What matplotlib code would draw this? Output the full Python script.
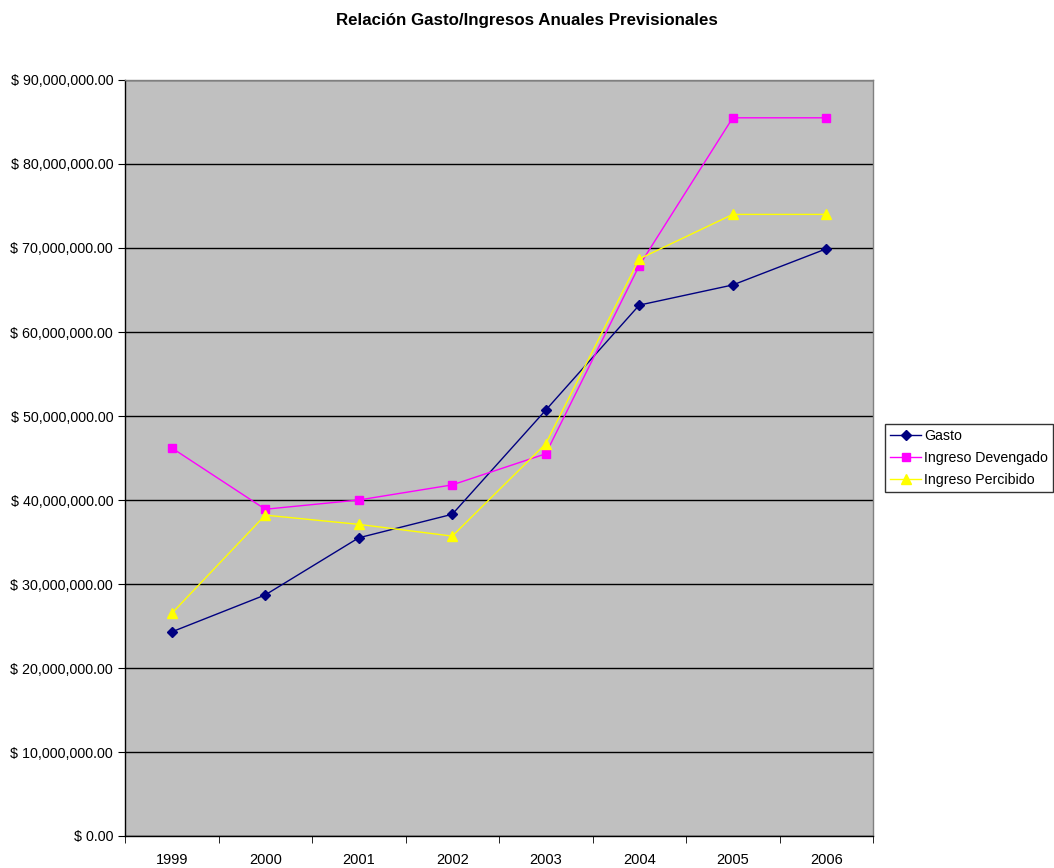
import matplotlib
matplotlib.use("Agg")
import matplotlib.pyplot as plt
from matplotlib.ticker import FuncFormatter, MultipleLocator, FixedLocator

plt.rcParams['font.family'] = ['Liberation Sans', 'DejaVu Sans']

years = ["1999", "2000", "2001", "2002", "2003", "2004", "2005", "2006"]
gasto = [24.3e6, 28.7e6, 35.5e6, 38.3e6, 50.7e6, 63.2e6, 65.6e6, 69.9e6]
ingreso_devengado = [46.2e6, 38.9e6, 40.0e6, 41.8e6, 45.5e6, 67.9e6, 85.5e6, 85.5e6]
ingreso_percibido = [26.5e6, 38.2e6, 37.1e6, 35.7e6, 46.7e6, 68.7e6, 74.0e6, 74.0e6]

fig = plt.figure(figsize=(10.54, 8.68), dpi=100)
ax = fig.add_axes([125/1054, 1-836/868, 748/1054, 756/868])
ax.set_facecolor('#c0c0c0')

x = list(range(len(years)))
ax.plot(x, gasto, color='#000080', marker='D', markersize=5, linewidth=1, label='Gasto')
ax.plot(x, ingreso_devengado, color='#ff00ff', marker='s', markersize=6, linewidth=1, label='Ingreso Devengado')
ax.plot(x, ingreso_percibido, color='#ffff00', marker='^', markersize=7, linewidth=1, label='Ingreso Percibido')

ax.set_xlim(-0.5, len(years)-0.5)
ax.set_ylim(0, 90e6)
ax.yaxis.set_major_locator(MultipleLocator(10e6))
ax.yaxis.set_major_formatter(FuncFormatter(lambda v, p: "$ {:,.2f}".format(v)))
ax.grid(axis='y', color='black', linewidth=1)
ax.set_axisbelow(True)

ax.set_xticks(x)
ax.set_xticklabels(years)
ax.xaxis.set_minor_locator(FixedLocator([i-0.5 for i in range(len(years)+1)]))
ax.tick_params(axis='x', which='major', length=0, labelsize=10.5, pad=12)
ax.tick_params(axis='x', which='minor', length=5, direction='out', color='black')
ax.tick_params(axis='y', length=5, direction='out', labelsize=10.3, color='black')

for s in ['top', 'right']:
    ax.spines[s].set_color('#808080')
for s in ['left', 'bottom']:
    ax.spines[s].set_color('black')
for s in ax.spines.values():
    s.set_linewidth(1)

fig.text(0.5, 1-20/868, "Relación Gasto/Ingresos Anuales Previsionales",
         ha='center', va='center', fontsize=12.2, fontweight='bold')

leg = fig.legend(loc='center left', bbox_to_anchor=(885/1054, 1-458/868),
                 fontsize=10.2, frameon=True, fancybox=False, edgecolor='black',
                 borderpad=0.35, labelspacing=0.55, handlelength=2.2, handletextpad=0.2,
                 borderaxespad=0)
leg.get_frame().set_linewidth(1)

fig.savefig("out.png", dpi=100)
